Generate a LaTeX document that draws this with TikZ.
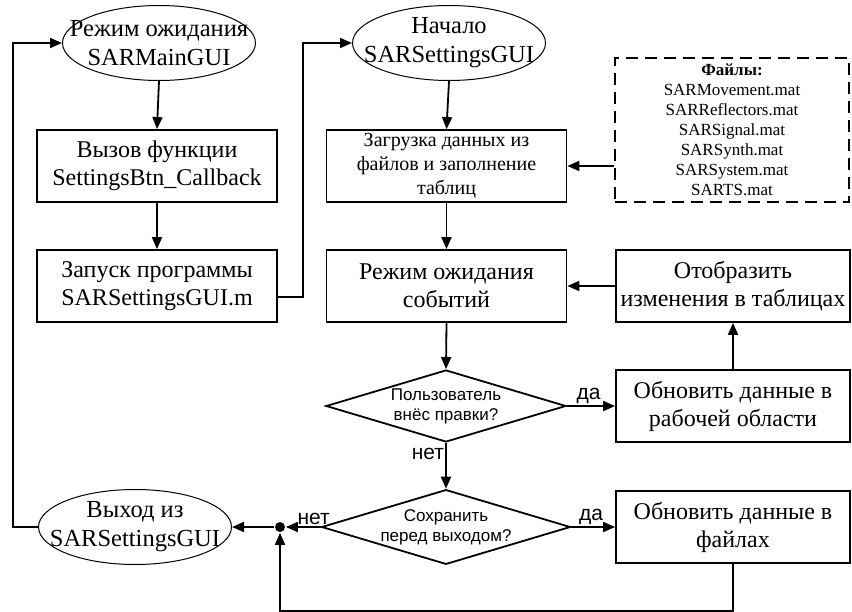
\documentclass[tikz,border=0pt]{standalone}
\usepackage{fontspec}
\setmainfont{Liberation Serif}
\setsansfont{Liberation Sans}
\usetikzlibrary{shapes.geometric,arrows.meta}
\begin{document}
\begin{tikzpicture}[x=1pt,y=-1pt, line width=1.8pt,
  box/.style={draw, rectangle, minimum width=240pt, minimum height=72pt, align=center, inner sep=0pt, font=\fontsize{24}{28}\selectfont},
  term/.style={draw, ellipse, line width=1pt, minimum width=193pt, minimum height=75pt, inner sep=0pt},
  termtext/.style={align=center, inner sep=0pt, font=\fontsize{24.5}{29}\selectfont},
  dec/.style={draw, diamond, aspect=3.33, minimum width=240pt, minimum height=72pt, inner sep=0pt, align=center, font=\sffamily\fontsize{17}{20}\selectfont},
  lbl/.style={font=\sffamily\fontsize{21}{22}\selectfont, inner sep=1pt},
  arr/.style={-{Triangle[length=12pt,width=10pt]}}]
\useasboundingbox (0,0) rectangle (852,612);

\node[term] (e1) at (159,43) {};
\node[termtext] (e1t) at (e1) {Режим ожидания\\SARMainGUI};
\node[box] (b1) at (157,166) {Вызов функции\\SettingsBtn\_Callback};
\node[box] (b2) at (157,286) {Запуск программы\\SARSettingsGUI.m};

\node[term] (e2) at (449,43) {};
\node[termtext] (e2t) at (e2) {Начало\\SARSettingsGUI};
\node[box, font=\fontsize{20}{24}\selectfont] (b3) at (446.5,166) {Загрузка данных из\\файлов и заполнение\\таблиц};
\node[box] (b4) at (446.5,286) {Режим ожидания\\событий};

\node[draw, dashed, dash pattern=on 12pt off 7pt, minimum width=234pt, minimum height=144pt, align=center, inner sep=0pt, font=\fontsize{17}{20}\selectfont] (files) at (732,130)
  {\textbf{Файлы:}\\SARMovement.mat\\SARReflectors.mat\\SARSignal.mat\\SARSynth.mat\\SARSystem.mat\\SARTS.mat};

\node[box, minimum width=234pt] (b5) at (733,286) {Отобразить\\изменения в таблицах};
\node[box, minimum width=234pt] (b6) at (733,406) {Обновить данные в\\рабочей области};
\node[box, minimum width=234pt] (b7) at (733,527) {Обновить данные в\\файлах};

\node[dec] (d1) at (446,406) {Пользователь\\внёс правки?};
\node[dec] (d2) at (446,527) {Сохранить\\перед выходом?};

\node[term] (ex) at (135,527) {};
\node[termtext] (ext) at (ex) {Выход из\\SARSettingsGUI};

\node[circle, fill, inner sep=0pt, minimum size=10pt] (dot) at (280,527) {};

% connectors
\draw[arr] (ex.west) -- ++(-25,0) |- (e1.west);
\draw[arr] (e1.south) -- (b1.north);
\draw[arr] (b1.south) -- (b2.north);
\draw[arr] ([yshift=-11pt]b2.east) -- ++(25,0) |- (e2.west);
\draw[arr] (e2.south) -- (b3.north);
\draw[arr] (b3.south) -- (b4.north);
\draw[arr] (files.west |- b3.east) -- (b3.east);
\draw[arr] (b5.west) -- (b4.east);
\draw[arr] (b4.south) -- (d1.north);
\draw[arr] (d1.east) -- node[lbl, above, pos=0.45] (l1) {да} (b6.west);
\draw[arr] (b6.north) -- (b5.south);
\draw[arr] (d1.south) -- node[lbl, left, pos=0.25] (l2) {нет} (d2.north);
\draw[arr] (d2.east) -- node[lbl, above, pos=0.45] (l3) {да} (b7.west);
\draw[arr] (d2.west) -- node[lbl, above, pos=0.2] (l4) {нет} (dot.east);
\draw[arr] (dot.west) -- (ex.east);
\draw[arr] (b7.south) -- ++(0,47) -| (dot.south);
\end{tikzpicture}
\end{document}
